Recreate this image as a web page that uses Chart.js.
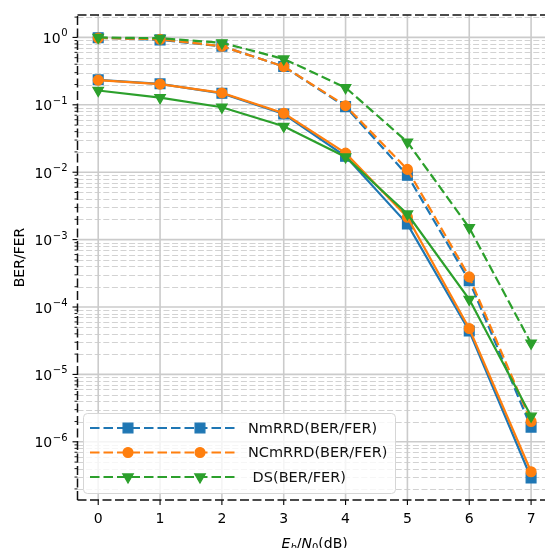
<!DOCTYPE html>
<html>
<head>
<meta charset="utf-8">
<script src="https://cdn.jsdelivr.net/npm/chart.js@4.4.0/dist/chart.umd.min.js"></script>
<style>
  html, body { margin: 0; padding: 0; background: #fff; overflow: hidden; }
  canvas { display: block; }
</style>
</head>
<body>
<canvas id="berChart" width="560" height="548"></canvas>
<script>
// Eb/N0 points (dB)
const snr = [0, 1, 2, 3, 4, 5, 6, 7];

// error rates per decoder
const nmrrdBer = [0.235, 0.205, 0.148, 0.073, 0.0172, 0.0017, 4.4e-5, 2.9e-7];
const nmrrdFer = [0.99, 0.92, 0.74, 0.37, 0.094, 0.009, 2.45e-4, 1.65e-6];
const ncmrrdBer = [0.232, 0.203, 0.15, 0.075, 0.0192, 0.00215, 4.8e-5, 3.6e-7];
const ncmrrdFer = [0.98, 0.94, 0.74, 0.37, 0.097, 0.011, 2.8e-4, 2.0e-6];
const dsBer = [0.163, 0.128, 0.092, 0.048, 0.0168, 0.0024, 1.3e-4, 2.4e-6];
const dsFer = [1.0, 0.97, 0.83, 0.48, 0.18, 0.028, 1.5e-3, 2.9e-5];

// axis ticks
const xTickLabels = ['0', '1', '2', '3', '4', '5', '6', '7'];
const yTickExps = [0, -1, -2, -3, -4, -5, -6];
const yTickExpLabels = ['0', '\u22121', '\u22122', '\u22123', '\u22124', '\u22125', '\u22126'];
const legendLabels = ['NmRRD(BER/FER)', 'NCmRRD(BER/FER)', ' DS(BER/FER)'];

const BLUE = '#1f77b4', ORANGE = '#ff7f0e', GREEN = '#2ca02c';
const FONT = '"DejaVu Sans", sans-serif';
const DASH = [9.5, 4];
const LINE_W = 2.2;

const styles = [
    { color: BLUE, pointStyle: 'rect', radius: 6.9, rotation: 0 },
    { color: ORANGE, pointStyle: 'circle', radius: 4.9, rotation: 0 },
    { color: GREEN, pointStyle: 'triangle', radius: 6, rotation: 180 }
];

function series(values, st, dashed, order) {
    return {
        data: snr.map((x, i) => ({ x: x, y: values[i] })),
        borderColor: st.color,
        backgroundColor: st.color,
        borderWidth: LINE_W,
        borderDash: dashed ? DASH : [],
        pointStyle: st.pointStyle,
        pointRadius: st.radius,
        pointRotation: st.rotation,
        pointBorderWidth: 1.3,
        pointBorderColor: st.color,
        pointBackgroundColor: st.color,
        pointHoverRadius: st.radius,
        tension: 0,
        fill: false,
        order: order
    };
}

// grid lines under the data
const gridPlugin = {
    id: 'gridPlugin',
    beforeDatasetsDraw(chart) {
        const { ctx, chartArea: a, scales: { x, y } } = chart;
        ctx.save();
        // minor horizontal lines
        ctx.setLineDash([6, 2.6]);
        ctx.lineWidth = 1;
        ctx.strokeStyle = '#d2d2d2';
        for (let e = -7; e <= 0; e++) {
            for (let s = 2; s <= 9; s++) {
                const v = s * Math.pow(10, e);
                if (v < y.min || v > y.max) continue;
                const py = Math.round(y.getPixelForValue(v)) + 0.5;
                ctx.beginPath();
                ctx.moveTo(a.left, py);
                ctx.lineTo(a.right, py);
                ctx.stroke();
            }
        }
        // major lines
        ctx.setLineDash([]);
        ctx.lineWidth = 1.6;
        ctx.strokeStyle = '#cbcbcb';
        yTickExps.forEach(e => {
            const py = y.getPixelForValue(Math.pow(10, e));
            ctx.beginPath();
            ctx.moveTo(a.left, py);
            ctx.lineTo(a.right, py);
            ctx.stroke();
        });
        snr.forEach(v => {
            const px = x.getPixelForValue(v);
            ctx.beginPath();
            ctx.moveTo(px, a.top);
            ctx.lineTo(px, a.bottom);
            ctx.stroke();
        });
        ctx.restore();
    }
};

// dashed frame, ticks, labels and legend
const framePlugin = {
    id: 'framePlugin',
    afterDraw(chart) {
        const { ctx, chartArea: a, scales: { x, y } } = chart;
        ctx.save();

        // ticks
        ctx.strokeStyle = '#000';
        ctx.setLineDash([]);
        ctx.lineWidth = 1.1;
        yTickExps.forEach(e => {
            const py = y.getPixelForValue(Math.pow(10, e));
            ctx.beginPath();
            ctx.moveTo(a.left - 5, py);
            ctx.lineTo(a.left, py);
            ctx.stroke();
        });
        ctx.lineWidth = 0.9;
        for (let e = -7; e <= 0; e++) {
            for (let s = 2; s <= 9; s++) {
                const v = s * Math.pow(10, e);
                if (v < y.min || v > y.max) continue;
                const py = y.getPixelForValue(v);
                ctx.beginPath();
                ctx.moveTo(a.left - 3, py);
                ctx.lineTo(a.left, py);
                ctx.stroke();
            }
        }
        ctx.lineWidth = 1.1;
        snr.forEach(v => {
            const px = x.getPixelForValue(v);
            ctx.beginPath();
            ctx.moveTo(px, a.bottom);
            ctx.lineTo(px, a.bottom + 5);
            ctx.stroke();
        });

        // frame
        ctx.setLineDash([9, 3.5]);
        ctx.lineWidth = 1.5;
        ctx.strokeStyle = '#111';
        [[a.left, a.bottom, a.left, a.top], [a.left, a.top, a.right, a.top],
         [a.left, a.bottom, a.right, a.bottom], [a.right, a.bottom, a.right, a.top]].forEach(l => {
            ctx.beginPath();
            ctx.moveTo(l[0], l[1]);
            ctx.lineTo(l[2], l[3]);
            ctx.stroke();
        });
        ctx.setLineDash([]);

        // tick labels
        ctx.fillStyle = '#000';
        ctx.textBaseline = 'alphabetic';
        ctx.textAlign = 'center';
        ctx.font = '14px ' + FONT;
        snr.forEach((v, i) => {
            ctx.fillText(xTickLabels[i], x.getPixelForValue(v), a.bottom + 23);
        });
        yTickExps.forEach((e, i) => {
            const py = y.getPixelForValue(Math.pow(10, e));
            ctx.font = '10px ' + FONT;
            const sup = yTickExpLabels[i];
            const supW = ctx.measureText(sup).width;
            ctx.textAlign = 'right';
            const right = a.left - 10;
            ctx.fillText(sup, right, py - 1);
            ctx.font = '14px ' + FONT;
            ctx.fillText('10', right - supW - 0.5, py + 5.5);
        });

        // axis titles
        ctx.save();
        ctx.translate(20.5, (a.top + a.bottom) / 2);
        ctx.rotate(-Math.PI / 2);
        ctx.textAlign = 'center';
        ctx.textBaseline = 'middle';
        ctx.font = '14px ' + FONT;
        ctx.fillText('BER/FER', 0, 0);
        ctx.restore();

        const parts = [
            { t: 'E', f: 'italic 14px ' + FONT, dy: 0 },
            { t: 'b', f: 'italic 10px ' + FONT, dy: 3 },
            { t: '/', f: '14px ' + FONT, dy: 0 },
            { t: 'N', f: 'italic 14px ' + FONT, dy: 0 },
            { t: '0', f: '10px ' + FONT, dy: 3 },
            { t: '(dB)', f: '14px ' + FONT, dy: 0 }
        ];
        ctx.textAlign = 'left';
        let total = 0;
        parts.forEach(p => { ctx.font = p.f; p.w = ctx.measureText(p.t).width; total += p.w; });
        let cx = (a.left + a.right) / 2 - total / 2;
        const base = 547.5;
        parts.forEach(p => {
            ctx.font = p.f;
            ctx.fillText(p.t, cx, base + p.dy);
            cx += p.w;
        });

        // legend
        const box = { x: 83.5, y: 413.5, w: 312, h: 80 };
        ctx.beginPath();
        ctx.roundRect(box.x, box.y, box.w, box.h, 4);
        ctx.fillStyle = 'rgba(255,255,255,0.8)';
        ctx.fill();
        ctx.strokeStyle = '#d6d6d6';
        ctx.lineWidth = 1;
        ctx.stroke();
        const rows = [428, 452.5, 477];
        styles.forEach((st, i) => {
            const ry = rows[i];
            ctx.setLineDash(DASH);
            ctx.lineWidth = LINE_W;
            ctx.strokeStyle = st.color;
            ctx.beginPath();
            ctx.moveTo(90, ry);
            ctx.lineTo(237, ry);
            ctx.stroke();
            ctx.setLineDash([]);
            ctx.fillStyle = st.color;
            ctx.strokeStyle = st.color;
            ctx.lineWidth = 1.3;
            [128, 200].forEach(mx => {
                Chart.helpers.drawPoint(ctx, {
                    pointStyle: st.pointStyle,
                    rotation: st.rotation,
                    radius: st.radius,
                    borderWidth: 1.3
                }, mx, ry);
            });
            ctx.fillStyle = '#111';
            ctx.font = '14.5px ' + FONT;
            ctx.textAlign = 'left';
            ctx.textBaseline = 'middle';
            ctx.fillText(legendLabels[i], 248, ry + 1);
            ctx.textBaseline = 'alphabetic';
        });

        ctx.restore();
    }
};

new Chart(document.getElementById('berChart').getContext('2d'), {
    type: 'line',
    data: {
        datasets: [
            series(nmrrdBer, styles[0], false, 5),
            series(nmrrdFer, styles[0], true, 4),
            series(ncmrrdBer, styles[1], false, 3),
            series(ncmrrdFer, styles[1], true, 2),
            series(dsBer, styles[2], false, 1),
            series(dsFer, styles[2], true, 0)
        ]
    },
    options: {
        responsive: false,
        animation: false,
        devicePixelRatio: 1,
        layout: { padding: { left: 77.5, top: 15, right: 8, bottom: 48 } },
        plugins: {
            legend: { display: false },
            tooltip: { enabled: false }
        },
        scales: {
            x: { type: 'linear', min: -0.335, max: 7.335, display: false },
            y: { type: 'logarithmic', min: 1.37e-7, max: 2.15, display: false }
        }
    },
    plugins: [gridPlugin, framePlugin]
});
</script>
</body>
</html>
